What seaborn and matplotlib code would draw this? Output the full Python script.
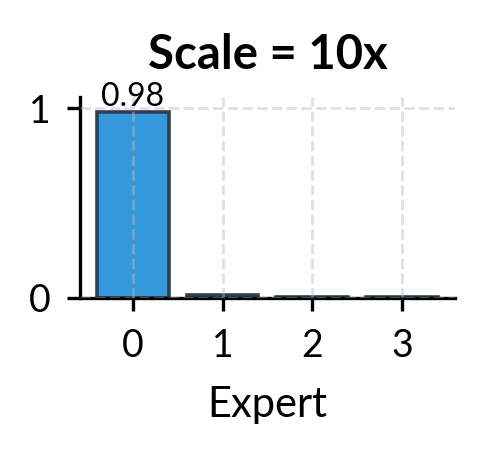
import matplotlib
matplotlib.use("Agg")
import matplotlib.pyplot as plt
import seaborn as sns
import pandas as pd

experts = ["0", "1", "2", "3"]
weights = [0.98, 0.015, 0.003, 0.002]
title = "Scale = 10x"

sns.set_style("ticks")
plt.rcParams['font.family'] = ['Lato', 'DejaVu Sans']
plt.rcParams['text.color'] = 'black'
plt.rcParams['axes.labelcolor'] = 'black'
plt.rcParams['xtick.color'] = 'black'
plt.rcParams['ytick.color'] = 'black'
plt.rcParams['axes.edgecolor'] = 'black'

df = pd.DataFrame({"Expert": experts, "Weight": weights})

fig = plt.figure(figsize=(2.42, 2.27), dpi=200)
ax = fig.add_axes([0.165, 0.344, 0.775, 0.442])

sns.barplot(data=df, x="Expert", y="Weight", color="#3498db",
            edgecolor="#2c3e50", linewidth=1.3, saturation=1, ax=ax)

for i, v in enumerate(weights):
    if v > 0.1:
        ax.text(i, v, f"{v:.2f}", ha="center", va="bottom", fontsize=11.5)

ax.set_xlim(-0.59, 3.59)
ax.set_ylim(0, max(weights) * 1.08)
ax.set_yticks([0, 1])
ax.set_ylabel("")
ax.set_xlabel("Expert", fontsize=15, labelpad=8)
ax.set_title(title, fontsize=17, fontweight="bold", pad=10)

ax.grid(True, linestyle="--", color="#bbbbbb", alpha=0.45, linewidth=1.0)
ax.set_axisbelow(False)
ax.tick_params(labelsize=13.5, length=4.7, width=1.2, pad=6)
for s in ["left", "bottom"]:
    ax.spines[s].set_linewidth(1.2)
sns.despine(ax=ax)

fig.savefig("out.png", dpi=200)
